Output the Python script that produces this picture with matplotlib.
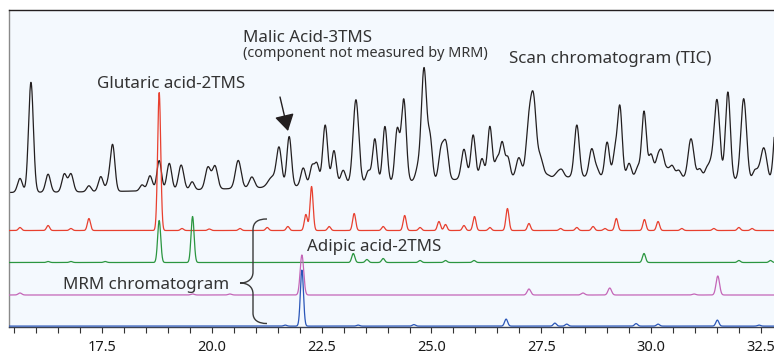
import numpy as np
import matplotlib
matplotlib.use("Agg")
import matplotlib.pyplot as plt
from matplotlib.path import Path
from matplotlib.patches import PathPatch
from matplotlib.transforms import Affine2D
from matplotlib.ticker import MultipleLocator, FormatStrFormatter

# retention time window (min)
rt_min, rt_max = 15.38, 32.80

# Scan chromatogram (TIC): peak RT, height, width (sigma, min)
tic_rt = [15.63, 15.88, 16.27, 16.64, 16.79, 17.20, 17.47, 17.64, 17.74, 18.41,
          18.59, 18.80, 19.03, 19.30, 19.55, 19.91, 20.07, 20.60, 20.91, 21.37,
          21.53, 21.76, 22.08, 22.28, 22.39, 22.58, 22.78, 22.99, 23.28, 23.56,
          23.71, 23.94, 24.22, 24.37, 24.69, 24.83, 24.97, 25.22, 25.33, 25.74,
          25.95, 26.15, 26.33, 26.49, 26.61, 26.74, 26.99, 27.22, 27.33, 27.47,
          27.54, 27.65, 27.88, 27.97, 28.31, 28.65, 28.77, 29.00, 29.18, 29.29,
          29.50, 29.70, 29.84, 30.00, 30.16, 30.25, 30.36, 30.48, 30.63, 30.91,
          31.11, 31.27, 31.36, 31.50, 31.75, 32.11, 32.36, 32.46, 32.55, 32.62,
          32.87, 28.50]
tic_h = [14, 110, 18, 18, 18, 6, 15, 8, 46, 6,
         15, 30, 27, 25, 8, 22, 23, 28, 11, 10,
         38, 50, 18, 19, 21, 60, 34, 14, 84, 12,
         44, 56, 52, 82, 12, 112, 40, 30, 35, 30,
         44, 20, 52, 18, 35, 20, 20, 52, 70, 16,
         6, 2, 5, 6, 52, 28, 7, 35, 24, 70,
         14, 10, 66, 23, 20, 21, 8, 12, 8, 40,
         10, 10, 12, 80, 88, 82, 10, 10, 25, 16,
         76, 16]
tic_w = [0.055, 0.055, 0.055, 0.055, 0.055, 0.050, 0.055, 0.050, 0.052, 0.050,
         0.055, 0.052, 0.055, 0.060, 0.050, 0.060, 0.060, 0.065, 0.060, 0.090,
         0.058, 0.052, 0.055, 0.050, 0.050, 0.056, 0.052, 0.055, 0.065, 0.050,
         0.052, 0.052, 0.052, 0.056, 0.055, 0.060, 0.050, 0.055, 0.055, 0.058,
         0.052, 0.050, 0.052, 0.050, 0.052, 0.050, 0.060, 0.065, 0.062, 0.050,
         0.050, 0.050, 0.060, 0.050, 0.056, 0.058, 0.050, 0.052, 0.050, 0.052,
         0.050, 0.050, 0.052, 0.055, 0.055, 0.050, 0.055, 0.055, 0.055, 0.065,
         0.055, 0.050, 0.050, 0.065, 0.056, 0.065, 0.050, 0.050, 0.050, 0.050,
         0.065, 5.0]

# MRM chromatograms: peak RT and height
red_rt = [15.63, 16.27, 16.79, 17.20, 18.80, 19.32, 19.94, 20.64, 21.26, 21.73,
          22.14, 22.27, 22.67, 23.24, 23.90, 24.39, 24.74, 25.17, 25.32, 25.74,
          25.98, 26.33, 26.73, 27.22, 27.94, 28.31, 28.68, 28.95, 29.21, 29.85,
          30.16, 30.70, 31.43, 32.00, 32.30]
red_h = [3, 5, 2, 12, 138, 2, 1.5, 2, 3, 4,
         16, 44, 4, 17, 4, 15, 3, 9, 6, 5,
         14, 3, 22, 7, 2, 3, 4, 2, 12, 11,
         9, 2, 2, 3, 2]

green_rt = [16.27, 16.79, 17.57, 18.80, 19.56, 23.22, 23.53, 23.90, 24.74, 25.32,
            25.97, 29.84, 32.00, 32.72]
green_h = [1, 1, 1, 42, 46, 9, 3, 4, 2, 2,
           2, 9, 2, 2]

purple_rt = [15.63, 19.56, 20.41, 22.05, 27.22, 28.45, 29.06, 30.98, 31.52]
purple_h = [2, 1, 1, 40, 6, 2, 7, 1, 19]

blue_rt = [21.67, 22.05, 23.33, 24.60, 26.70, 27.81, 28.08, 29.66, 30.16, 31.51, 32.46]
blue_h = [1, 56, 1, 1.5, 7, 3, 2, 2.5, 2, 6, 1]

# vertical offset of each trace (stacked display)
offsets = {"tic": 133.7, "red": 96.2, "green": 64.2, "purple": 31.7, "blue": 0.6}


def trace(t, rts, hs, ws):
    y = np.zeros_like(t)
    for r, h, w in zip(rts, hs, ws):
        y += h * np.exp(-0.5 * ((t - r) / w) ** 2)
    return y


plt.rcParams['font.family'] = ['Noto Sans', 'DejaVu Sans']
TXT = '#333333'

fig = plt.figure(figsize=(7.74, 3.55), dpi=100)
ax = fig.add_axes([9 / 774, 28.3 / 355, 765 / 774, 316.7 / 355])
ax.set_facecolor('#f4f9fe')

t = np.linspace(rt_min - 0.3, rt_max + 0.3, 6000)

ax.plot(t, offsets["tic"] + trace(t, tic_rt, tic_h, tic_w), color='#231f20', lw=0.9, zorder=2)
ax.plot(t, offsets["red"] + trace(t, red_rt, red_h, [0.035] * len(red_rt)),
        color='#e8402f', lw=0.9, zorder=3)
ax.plot(t, offsets["green"] + trace(t, green_rt, green_h, [0.035] * len(green_rt)),
        color='#2b9640', lw=0.9, zorder=4)
ax.plot(t, offsets["purple"] + trace(t, purple_rt, purple_h, [0.04] * len(purple_rt)),
        color='#c466b8', lw=0.9, zorder=5)
ax.plot(t, offsets["blue"] + trace(t, blue_rt, blue_h, [0.035] * len(blue_rt)),
        color='#2a56b8', lw=0.9, zorder=6)

ax.set_xlim(rt_min, rt_max)
ax.set_ylim(0, 316.7)

# axis styling
ax.xaxis.set_major_locator(MultipleLocator(2.5))
ax.xaxis.set_minor_locator(MultipleLocator(0.5))
ax.xaxis.set_major_formatter(FormatStrFormatter('%.1f'))
ax.tick_params(axis='x', which='both', direction='out', length=4.5, width=0.8,
               color='#333333', labelsize=10.5, labelcolor='#1a1a1a', pad=5)
ax.set_yticks([])
ax.spines['right'].set_visible(False)
ax.spines['top'].set_color('#231f20')
ax.spines['top'].set_linewidth(1.0)
ax.spines['left'].set_color('#8a8a8a')
ax.spines['left'].set_linewidth(1.0)
ax.spines['bottom'].set_color('#3a4050')
ax.spines['bottom'].set_linewidth(1.0)

# annotations in image-pixel coordinates (origin top-left)
img = Affine2D().scale(1, -1).translate(0, 355)

ax.text(97, 88, "Glutaric acid-2TMS", transform=img, fontsize=12.2, color=TXT, va='baseline')
ax.text(243, 41.7, "Malic Acid-3TMS", transform=img, fontsize=12.2, color=TXT, va='baseline')
ax.text(243, 57, "(component not measured by MRM)", transform=img, fontsize=10.4, color=TXT,
        va='baseline')
ax.text(509, 63.3, "Scan chromatogram (TIC)", transform=img, fontsize=12.2, color=TXT,
        va='baseline')
ax.text(306.7, 251, "Adipic acid-2TMS", transform=img, fontsize=12.2, color=TXT, va='baseline')
ax.text(63, 289.3, "MRM chromatogram", transform=img, fontsize=12.2, color=TXT, va='baseline')

ax.annotate("", xy=(288, 131), xycoords=img, xytext=(280, 97), textcoords=img,
            arrowprops=dict(arrowstyle='-|>,head_length=1.0,head_width=0.6',
                            mutation_scale=10, color='#231f20', lw=1.0,
                            shrinkA=0, shrinkB=0))

# curly brace grouping the MRM traces
verts = [(267, 219), (258, 219), (253, 222), (253, 230),
         (253, 272),
         (253, 279), (248, 283), (240, 283),
         (248, 283), (253, 287), (253, 294),
         (253, 313),
         (253, 320), (258, 323.5), (267, 323.5)]
codes = [Path.MOVETO, Path.CURVE4, Path.CURVE4, Path.CURVE4,
         Path.LINETO,
         Path.CURVE4, Path.CURVE4, Path.CURVE4,
         Path.CURVE4, Path.CURVE4, Path.CURVE4,
         Path.LINETO,
         Path.CURVE4, Path.CURVE4, Path.CURVE4]
brace = PathPatch(Path(verts, codes), transform=img, fill=False, edgecolor='#3a3a3a', lw=1.0,
                  zorder=7)
ax.add_patch(brace)

fig.savefig('out.png', dpi=100, facecolor='white')
